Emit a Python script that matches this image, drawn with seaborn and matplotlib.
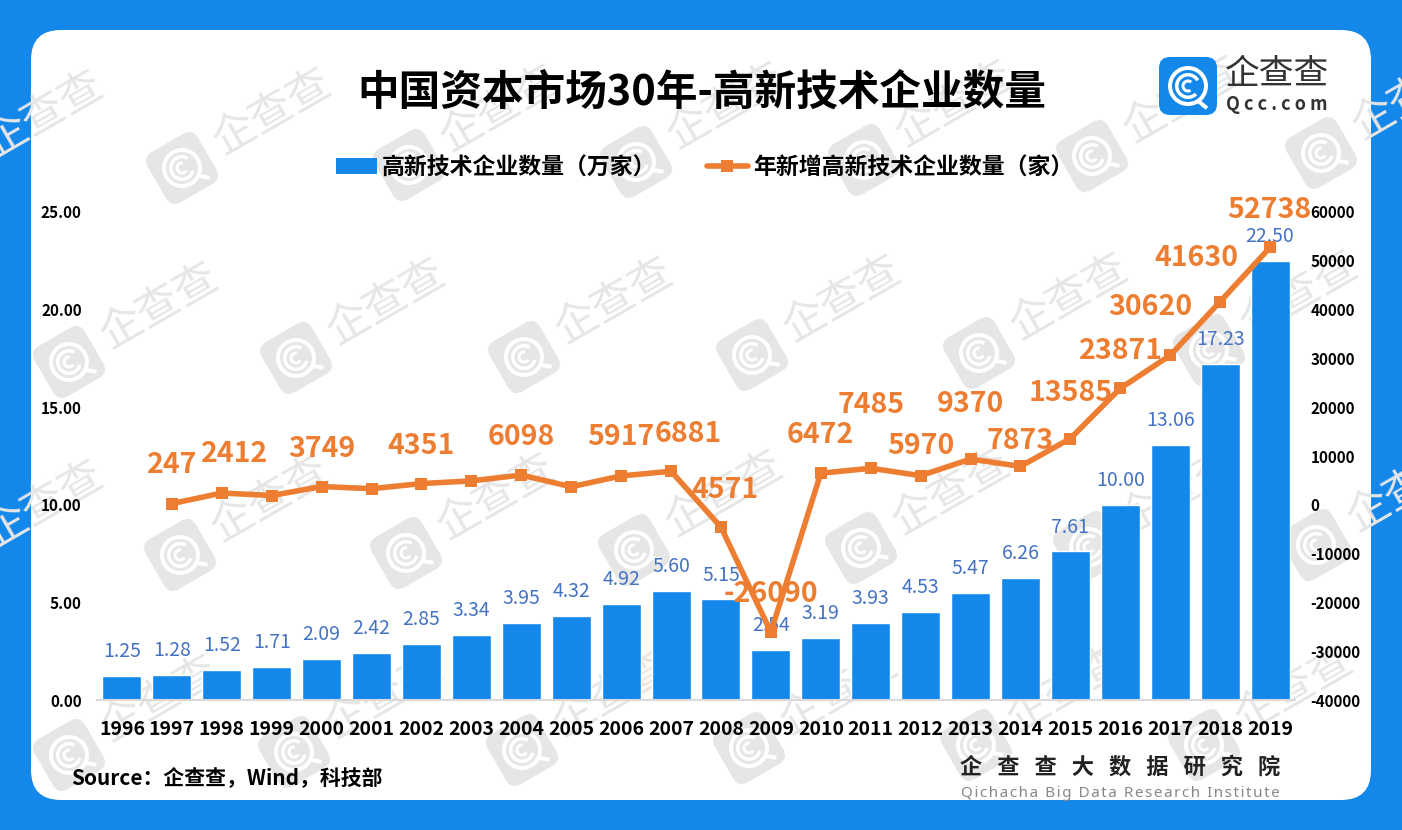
import numpy as np
import pandas as pd
import matplotlib
matplotlib.use('Agg')
import matplotlib.pyplot as plt
import seaborn as sns
from matplotlib.patches import FancyBboxPatch, Wedge, Rectangle
from matplotlib.lines import Line2D
from matplotlib.transforms import Affine2D

sns.set_theme(style='white')
plt.rcParams['font.family'] = ['Noto Sans CJK SC', 'DejaVu Sans']
plt.rcParams['axes.unicode_minus'] = False

# Data
years = ['1996', '1997', '1998', '1999', '2000', '2001', '2002', '2003', '2004', '2005', '2006', '2007',
         '2008', '2009', '2010', '2011', '2012', '2013', '2014', '2015', '2016', '2017', '2018', '2019']
firms_wan = [1.25, 1.28, 1.52, 1.71, 2.09, 2.42, 2.85, 3.34, 3.95, 4.32, 4.92, 5.60,
             5.15, 2.54, 3.19, 3.93, 4.53, 5.47, 6.26, 7.61, 10.00, 13.06, 17.23, 22.50]
new_firms = [np.nan, 247, 2412, 1900, 3749, 3300, 4351, 4900, 6098, 3700, 5917, 6881,
             -4571, -26090, 6472, 7485, 5970, 9370, 7873, 13585, 23871, 30620, 41630, 52738]
# The picture prints only some of the line values, and 2008 without its minus sign
new_labels = ['', '247', '2412', '', '3749', '', '4351', '', '6098', '', '5917', '6881',
              '4571', '-26090', '6472', '7485', '5970', '9370', '7873', '13585', '23871', '30620', '41630', '52738']
left_ticks = [0, 5, 10, 15, 20, 25]
right_ticks = [-40000, -30000, -20000, -10000, 0, 10000, 20000, 30000, 40000, 50000, 60000]

# Label nudges in pixels, (dx, dy) from the point
label_shift = {1: (0, 39), 2: (13, 39), 4: (0, 38), 6: (0, 38), 8: (0, 38), 10: (0, 39), 11: (17, 37),
               12: (4, 37), 13: (0, 38), 14: (-1, 38), 15: (0, 63), 16: (0, 30), 17: (0, 55), 18: (0, 25),
               19: (0, 46), 20: (1, 37), 21: (-20, 48), 22: (-24, 44), 23: (-1, 37)}

BLUE = '#1488EA'
ORANGE = '#ED7D31'
LABEL_BLUE = '#4472C4'
W, H = 1402, 830

df = pd.DataFrame({'pos': np.arange(len(years)), 'year': years, 'firms': firms_wan, 'new': new_firms})

fig = plt.figure(figsize=(W / 100, H / 100), dpi=100, facecolor=BLUE)

# Background panel, in pixel coordinates
bg = fig.add_axes([0, 0, 1, 1], zorder=0)
bg.set_xlim(0, W)
bg.set_ylim(H, 0)
bg.axis('off')
panel = FancyBboxPatch((61, 60), 1280, 710, boxstyle='round,pad=30,rounding_size=30', fc='white', ec='none')
bg.add_patch(panel)


def draw_logo(a, cx, cy, size, angle, fc, ring, clip=None):
    tr = Affine2D().rotate_deg_around(cx, cy, angle) + a.transData
    h = size / 2
    parts = [FancyBboxPatch((cx - h + 8, cy - h + 8), size - 16, size - 16, boxstyle='round,pad=8,rounding_size=11',
                            fc=fc, ec='none', transform=tr)]
    k = size / 58
    # outer ring, middle C, inner C and the little tail
    parts.append(Wedge((cx, cy), 20 * k, 0, 360, width=4 * k, fc=ring, ec='none', transform=tr))
    parts.append(Wedge((cx, cy), 13 * k, 45, 330, width=3.5 * k, fc=ring, ec='none', transform=tr))
    parts.append(Wedge((cx, cy), 6.5 * k, 60, 310, width=3 * k, fc=ring, ec='none', transform=tr))
    parts.append(Rectangle((cx + 11 * k, cy + 13 * k), 12 * k, 4 * k, fc=ring, ec='none',
                           transform=Affine2D().rotate_deg_around(cx + 11 * k, cy + 13 * k, 40) + tr))
    for p in parts:
        a.add_patch(p)
        if clip is not None:
            p.set_clip_path(clip)


# Watermarks sit under the chart
wm_centres = [(-46, 170), (182, 168), (409, 165), (636, 162), (864, 160), (1092, 156), (1321, 153),
              (69, 362), (296, 358), (524, 357), (752, 355), (979, 353), (1209, 350),
              (-46, 560), (180, 555), (406, 553), (634, 550), (861, 548), (1089, 547), (1316, 545),
              (69, 755), (294, 752), (522, 750), (749, 748), (976, 745), (1204, 745),
              (69, -30), (296, -32), (524, -33), (752, -35), (979, -36), (1209, -38)]
for cx, cy in wm_centres:
    draw_logo(bg, cx, cy, 58, -30, '#e6e6e6', 'white', clip=panel)
    tx = bg.text(cx + 90, cy - 55, '企查查', fontsize=31, fontweight='light', color='#e6e6e6',
                 rotation=30, rotation_mode='anchor', ha='center', va='center')
    tx.set_clip_path(panel)

# Main chart
ax = fig.add_axes([97 / W, 1 - 700 / H, (1295 - 97) / W, (700 - 212) / H], zorder=1)
ax.patch.set_alpha(0)
sns.barplot(data=df, x='year', y='firms', color=BLUE, saturation=1, width=0.78, ax=ax)
ax.set_xlim(-0.5, 23.5)
ax.set_ylim(0, 25)
ax.set_yticks(left_ticks)
ax.set_yticklabels([f'{v:.2f}' for v in left_ticks])
ax.set_xlabel('')
ax.set_ylabel('')
ax.tick_params(axis='x', length=0, pad=14.5, labelsize=14, labelcolor='black')
ax.tick_params(axis='y', length=0, pad=11, labelsize=11, labelcolor='black')
for lab in ax.get_xticklabels() + ax.get_yticklabels():
    lab.set_fontweight('bold')
for s in ['top', 'left', 'right']:
    ax.spines[s].set_visible(False)
ax.spines['bottom'].set_color('#d9d9d9')
ax.spines['bottom'].set_linewidth(1.5)

for i, v in enumerate(firms_wan):
    ax.annotate(f'{v:.2f}', (i, v), xytext=(0, 17.6), textcoords='offset points', ha='center', va='center',
                fontsize=14, color=LABEL_BLUE, zorder=6)

# Line on second axis
ax2 = ax.twinx()
ax2.patch.set_alpha(0)
sns.lineplot(data=df.dropna(), x='pos', y='new', color=ORANGE, linewidth=4, marker='s', markersize=9,
             markeredgewidth=0, sort=False, ax=ax2, zorder=5)
ax2.set_ylim(-40000, 60000)
ax2.set_yticks(right_ticks)
ax2.set_yticklabels([str(v) for v in right_ticks])
ax2.set_xlabel('')
ax2.set_ylabel('')
ax2.tick_params(axis='y', length=0, pad=11, labelsize=11, labelcolor='black')
for lab in ax2.get_yticklabels():
    lab.set_fontweight('bold')
for s in ax2.spines.values():
    s.set_visible(False)

for i, t in enumerate(new_labels):
    if t == '':
        continue
    dx, dy = label_shift[i]
    ax2.annotate(t, (i, new_firms[i]), xytext=(dx * 0.72, dy * 0.72), textcoords='offset points', ha='center',
                 va='center', fontsize=20.5, fontweight='bold', color=ORANGE, zorder=7)

# Legend
handles = [Rectangle((0, 0), 1, 1, fc=BLUE, ec='none'),
           Line2D([], [], color=ORANGE, lw=4, marker='s', ms=9, mew=0)]
fig.legend(handles, ['高新技术企业数量（万家）', '年新增高新技术企业数量（家）'], ncol=2, frameon=False,
           loc='center', bbox_to_anchor=(704.5 / W, 1 - 168 / H), handlelength=1.8, handletextpad=0.2,
           columnspacing=2.2, labelcolor='black', prop={'weight': 'bold', 'size': 16.5})

# Overlay for title, logo and footer
top = fig.add_axes([0, 0, 1, 1], zorder=3)
top.set_xlim(0, W)
top.set_ylim(H, 0)
top.axis('off')

top.text(702, 93, '中国资本市场30年-高新技术企业数量', fontsize=30, fontweight='bold', color='black',
         ha='center', va='center')
top.text(71, 779, 'Source：企查查，Wind，科技部', fontsize=15, fontweight='bold', color='black', va='center')
top.text(1120, 767, '企   查   查   大   数   据   研   究   院', fontsize=16, fontweight='bold', color='#222222',
         ha='center', va='center')
top.text(1120, 793, '\u200a'.join('Qichacha Big Data Research Institute'), fontsize=11, color='#888888',
         family=['Noto Sans', 'DejaVu Sans'], ha='center', va='center')

# Company logo top right
draw_logo(top, 1188, 86, 58, 0, BLUE, 'white')
top.text(1277, 74, '企查查', fontsize=25, fontweight='light', color='#333333', ha='center', va='center')
top.text(1277, 105, 'Q c c . c o m', fontsize=13, fontweight='bold', color='#333333', ha='center', va='center')

fig.savefig('out.png', dpi=100, facecolor=fig.get_facecolor())
